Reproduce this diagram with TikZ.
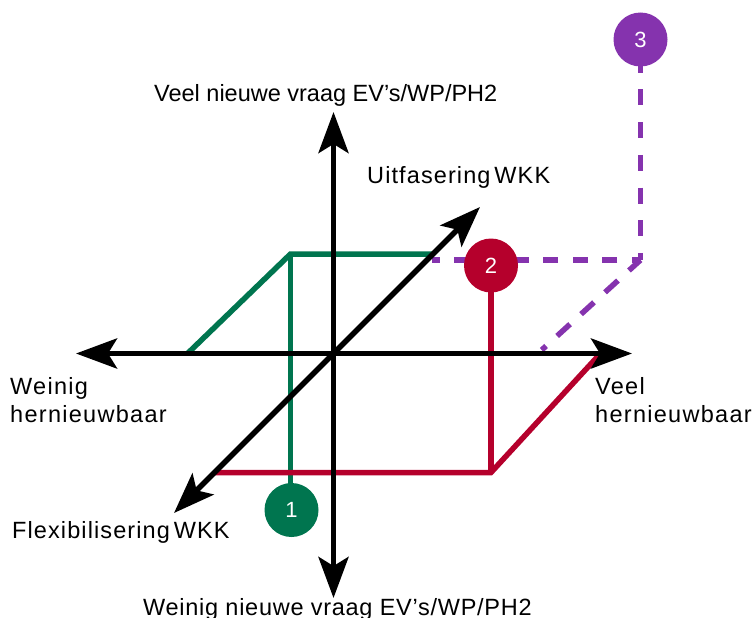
\documentclass[tikz,border=0pt]{standalone}
\usepackage{fontspec}
\setmainfont{Liberation Sans}
\usetikzlibrary{arrows.meta}
\definecolor{rgreen}{HTML}{00754F}
\definecolor{rred}{HTML}{B5002C}
\definecolor{rpurple}{HTML}{8533AE}
\definecolor{rblack}{HTML}{000000}
\newfontfamily\lsA[LetterSpace=5.5]{Liberation Sans}
\newfontfamily\lsB[LetterSpace=4.7]{Liberation Sans}
\newfontfamily\lsC[LetterSpace=3.1]{Liberation Sans}
\tikzset{
  axis/.style={line width=5.5pt,draw=rblack,{Stealth[length=41pt,width=30pt,inset=9pt]}-{Stealth[length=41pt,width=30pt,inset=9pt]}},
  gline/.style={line width=5.5pt,draw=rgreen,line join=miter},
  rline/.style={line width=5.5pt,draw=rred,line join=miter},
  pdashv/.style={line width=5.5pt,draw=rpurple,dash pattern=on 16pt off 16.7pt},
  pdashh/.style={line width=5.5pt,draw=rpurple,dash pattern=on 15pt off 14.6pt},
  pdashd/.style={line width=5.5pt,draw=rpurple,dash pattern=on 17.5pt off 14.9pt},
  badge/.style={circle,minimum size=54pt,inner sep=0pt,text=white,font=\fontsize{22}{22}\selectfont},
  lab/.style={anchor=base west,inner sep=0pt,text=black,font=\fontsize{23.5}{23.5}\selectfont,align=left}
}
\begin{document}
\begin{tikzpicture}[x=1pt,y=-1pt]
\useasboundingbox (0,0) rectangle (752,618);
\clip (0,0) rectangle (752,618);
\coordinate (gA) at (187,354);
\coordinate (gB) at (290.5,254);
\coordinate (gC) at (433,254);
\coordinate (gD) at (290.5,490);
\coordinate (rA) at (215,472.5);
\coordinate (rB) at (491,472.5);
\coordinate (rC) at (600,354);
\coordinate (rD) at (491,270);
\coordinate (pC) at (640.5,260);
\coordinate (pH) at (432,260);
\coordinate (pD) at (541.7,350);
\coordinate (pT) at (640.5,66);
\coordinate (aL) at (76,353.5);
\coordinate (aR) at (632,353.5);
\coordinate (aT) at (333.5,112);
\coordinate (aB) at (333.5,598);
\coordinate (aDa) at (480,207);
\coordinate (aDb) at (174,513);
% coloured lines
\draw[gline] (gA) -- (gB) -- (gC);
\draw[gline] (gB) -- (gD);
\draw[rline] (rA) -- (rB) -- (rC);
\draw[rline] (rB) -- (rD);
% purple dashes
\draw[pdashv,dash phase=9.3pt] (pT) -- (pC);
\draw[pdashh,dash phase=6.5pt] (pC) -- (pH);
\draw[pdashd,dash phase=1.9pt] (pC) -- (pD);
% axes
\draw[axis] (aL) -- (aR);
\draw[axis] (aT) -- (aB);
\draw[axis] (aDb) -- (aDa);
% badges
\node[badge,fill=rgreen] (n1) at (291.5,510) {\raisebox{-1.5pt}{1}};
\node[badge,fill=rred] (n2) at (491,265.5) {\raisebox{-1.5pt}{2}};
\node[badge,fill=rpurple] (n3) at (640.5,39.5) {\raisebox{-1.5pt}{3}};
% labels
\node[lab] (t1) at (154,101) {Veel nieuwe vraag EV’s/WP/PH2};
\node[lab] (t2) at (367,183) {\lsB Uitfasering\,WKK};
\node[lab] (t3a) at (10,394) {\lsA Weinig};
\node[lab] (t3b) at (10,422) {\lsA hernieuwbaar};
\node[lab] (t4a) at (595,394) {\lsA Veel};
\node[lab] (t4b) at (595,422) {\lsA hernieuwbaar};
\node[lab] (t5) at (12,538) {\lsB Flexibilisering\,WKK};
\node[lab] (t6) at (143,615) {\lsC Weinig nieuwe vraag EV’s/WP/PH2};
\end{tikzpicture}
\end{document}
